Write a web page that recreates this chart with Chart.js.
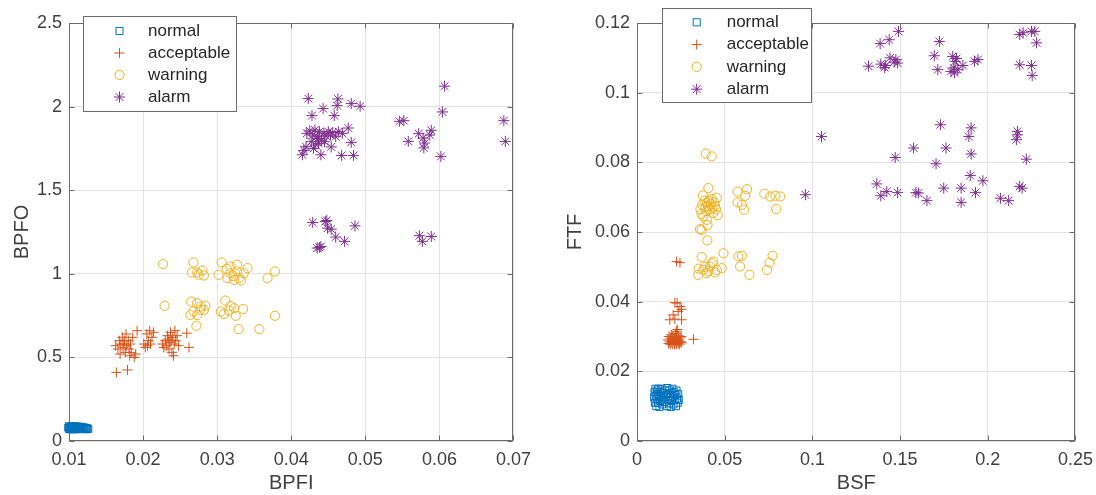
<!DOCTYPE html>
<html>
<head>
<meta charset="utf-8">
<script src="https://cdn.jsdelivr.net/npm/chart.js@4.4.1/dist/chart.umd.min.js"></script>
<style>
  html, body { margin: 0; padding: 0; background: #fff; overflow: hidden; }
  body { width: 1096px; height: 495px; position: relative; }
  .box { position: absolute; top: 0; height: 495px; }
</style>
</head>
<body>
<div class="box" id="boxL" style="left:0;width:539px;"><canvas id="cL"></canvas></div>
<div class="box" id="boxR" style="left:548px;width:553px;"><canvas id="cR"></canvas></div>
<script>
// ---------- data ----------
const classLabels = ['normal', 'acceptable', 'warning', 'alarm'];

// Left plot: [BPFI, BPFO]
const leftNormal = [[0.0099,0.080],[0.0100,0.072],[0.0100,0.088],[0.0101,0.078],[0.0102,0.084],[0.0102,0.070],[0.0103,0.080],[0.0104,0.075],[0.0104,0.088],[0.0105,0.082],[0.0106,0.070],[0.0106,0.078],[0.0107,0.085],[0.0108,0.074],[0.0108,0.080],[0.0109,0.088],[0.0110,0.072],[0.0110,0.080],[0.0111,0.084],[0.0112,0.076],[0.0112,0.070],[0.0113,0.082],[0.0114,0.078],[0.0114,0.086],[0.0115,0.072],[0.0116,0.080],[0.0117,0.076],[0.0118,0.084],[0.0119,0.078],[0.0120,0.072],[0.0121,0.080],[0.0122,0.076],[0.0123,0.070],[0.0124,0.078],[0.0125,0.074],[0.0126,0.072]];
const leftAcceptable = [[0.0164,0.41],[0.0179,0.425],[0.0163,0.57],[0.0166,0.55],[0.0168,0.60],[0.0170,0.58],[0.0172,0.62],[0.0173,0.56],[0.0175,0.60],[0.0176,0.53],[0.0177,0.64],[0.0178,0.57],[0.0180,0.60],[0.0181,0.55],[0.0182,0.51],[0.0183,0.58],[0.0184,0.53],[0.0186,0.62],[0.0188,0.50],[0.0190,0.52],[0.0192,0.66],[0.0174,0.58],[0.0169,0.52],
  [0.0201,0.58],[0.0203,0.56],[0.0205,0.64],[0.0207,0.60],[0.0209,0.66],[0.0210,0.58],[0.0212,0.62],[0.0214,0.65],[0.0206,0.57],
  [0.0226,0.58],[0.0228,0.56],[0.0230,0.60],[0.0232,0.57],[0.0233,0.63],[0.0235,0.55],[0.0236,0.59],[0.0237,0.65],[0.0238,0.60],[0.0239,0.53],[0.0240,0.62],[0.0241,0.51],[0.0242,0.58],[0.0243,0.66],[0.0244,0.60],[0.0246,0.63],[0.0248,0.57],[0.0259,0.645],[0.0262,0.56],[0.0234,0.61]];
const leftWarning = [[0.0227,1.058],[0.0268,1.068],[0.0266,1.008],[0.0273,1.008],[0.0280,1.020],[0.0282,0.990],[0.0275,0.995],[0.0306,1.068],[0.0318,1.044],[0.0327,1.054],[0.0341,1.034],[0.0302,0.994],[0.0314,0.974],[0.0323,0.964],[0.0332,0.960],[0.0318,1.004],[0.0327,1.014],[0.0336,1.004],[0.0368,0.974],[0.0378,1.014],[0.0313,1.030],[0.0322,0.985],[0.0330,0.975],
  [0.0229,0.808],[0.0265,0.834],[0.0273,0.824],[0.0278,0.804],[0.0282,0.784],[0.0268,0.774],[0.0264,0.754],[0.0273,0.754],[0.0272,0.689],[0.0277,0.785],[0.0284,0.810],
  [0.0311,0.840],[0.0318,0.808],[0.0323,0.794],[0.0305,0.774],[0.0309,0.759],[0.0325,0.749],[0.0335,0.789],[0.0316,0.780],[0.0329,0.669],[0.0357,0.669],[0.0378,0.749]];
const leftAlarm = [[0.0423,2.048],[0.0463,2.046],[0.0481,2.018],[0.0493,2.002],[0.0443,1.988],[0.0462,2.006],[0.0428,1.946],[0.0458,1.946],[0.0477,1.872],[0.0481,1.786],[0.0454,1.759],[0.0417,1.738],[0.0415,1.712],[0.0440,1.712],[0.0468,1.708],[0.0484,1.708],
  [0.0421,1.840],[0.0425,1.855],[0.0429,1.830],[0.0432,1.860],[0.0435,1.820],[0.0438,1.850],[0.0441,1.800],[0.0444,1.840],[0.0447,1.825],[0.0450,1.850],[0.0453,1.830],[0.0456,1.845],[0.0460,1.820],[0.0464,1.850],[0.0469,1.840],[0.0427,1.790],[0.0433,1.770],[0.0437,1.780],[0.0430,1.750],[0.0420,1.760],[0.0445,1.790],[0.0436,1.810],
  [0.0607,2.122],[0.0604,1.968],[0.0546,1.912],[0.0552,1.916],[0.0572,1.838],[0.0589,1.858],[0.0587,1.830],[0.0558,1.792],[0.0578,1.812],[0.0580,1.782],[0.0579,1.753],[0.0602,1.702],[0.0687,1.916],[0.0689,1.792],
  [0.0429,1.307],[0.0446,1.313],[0.0448,1.319],[0.0449,1.273],[0.0454,1.267],[0.0486,1.287],[0.0460,1.220],[0.0472,1.194],[0.0435,1.154],[0.0440,1.163],[0.0438,1.158],[0.0573,1.228],[0.0589,1.223],[0.0577,1.194]];

// Right plot: [BSF, FTF]
const rightNormal = [[0.0098,0.0125],[0.0100,0.0140],[0.0102,0.0110],[0.0105,0.0150],[0.0107,0.0130],[0.0110,0.0100],[0.0112,0.0120],[0.0115,0.0145],[0.0117,0.0135],[0.0120,0.0110],[0.0122,0.0150],[0.0125,0.0125],[0.0128,0.0098],[0.0130,0.0140],[0.0133,0.0115],[0.0136,0.0130],[0.0140,0.0150],[0.0143,0.0105],[0.0146,0.0122],[0.0150,0.0138],[0.0155,0.0112],[0.0160,0.0145],[0.0165,0.0128],[0.0170,0.0100],[0.0172,0.0152],[0.0175,0.0118],[0.0178,0.0135],[0.0182,0.0108],[0.0185,0.0145],[0.0188,0.0125],[0.0192,0.0098],[0.0195,0.0138],[0.0198,0.0115],[0.0202,0.0150],[0.0205,0.0128],[0.0208,0.0105],[0.0212,0.0140],[0.0215,0.0118],[0.0218,0.0132],[0.0222,0.0100],[0.0225,0.0145],[0.0228,0.0122],[0.0232,0.0110],[0.0235,0.0135],[0.0238,0.0118]];
const rightAcceptable = [[0.0226,0.0515],[0.0245,0.0512],[0.0216,0.0397],[0.0229,0.0396],[0.0245,0.0386],[0.0235,0.0372],[0.0254,0.0378],[0.0206,0.0362],[0.0187,0.0348],[0.0216,0.0350],[0.0254,0.0348],[0.0322,0.0292],[0.0225,0.0315],[0.0230,0.0320],
  [0.0176,0.0290],[0.0180,0.0280],[0.0183,0.0300],[0.0186,0.0285],[0.0189,0.0278],[0.0192,0.0295],[0.0195,0.0305],[0.0198,0.0282],[0.0201,0.0290],[0.0204,0.0278],[0.0207,0.0300],[0.0210,0.0288],[0.0213,0.0280],[0.0216,0.0295],[0.0219,0.0308],[0.0222,0.0285],[0.0225,0.0278],[0.0228,0.0298],[0.0231,0.0288],[0.0234,0.0280],[0.0237,0.0302],[0.0240,0.0290],[0.0243,0.0278],[0.0246,0.0296],[0.0249,0.0285],[0.0252,0.0300],[0.0255,0.0282],[0.0200,0.0300],[0.0215,0.0277],[0.0238,0.0285]];
const rightWarning = [[0.0392,0.0825],[0.0426,0.0817],[0.0407,0.0726],
  [0.0375,0.0705],[0.0385,0.0690],[0.0390,0.0672],[0.0395,0.0660],[0.0400,0.0685],[0.0405,0.0675],[0.0410,0.0690],[0.0415,0.0665],[0.0420,0.0680],[0.0425,0.0695],[0.0430,0.0670],[0.0435,0.0655],[0.0440,0.0685],[0.0445,0.0675],[0.0450,0.0665],[0.0455,0.0698],[0.0460,0.0648],[0.0362,0.0665],[0.0368,0.0652],[0.0378,0.0645],[0.0372,0.0678],[0.0398,0.0635],[0.0402,0.0620],
  [0.0573,0.0716],[0.0627,0.0723],[0.0617,0.0704],[0.0573,0.0685],[0.0598,0.0678],[0.0611,0.0664],
  [0.0726,0.0710],[0.0760,0.0702],[0.0789,0.0704],[0.0817,0.0702],[0.0794,0.0666],
  [0.0359,0.0608],[0.0369,0.0606],[0.0401,0.0576],[0.0493,0.0539],
  [0.0369,0.0528],[0.0435,0.0515],[0.0416,0.0501],[0.0378,0.0491],[0.0349,0.0477],[0.0397,0.0482],[0.0455,0.0491],[0.0483,0.0496],[0.0445,0.0484],[0.0426,0.0510],[0.0388,0.0500],[0.0408,0.0488],[0.0352,0.0495],
  [0.0578,0.0530],[0.0598,0.0532],[0.0588,0.0501],[0.0641,0.0477],
  [0.0741,0.0491],[0.0756,0.0512],[0.0773,0.0532]];
const rightAlarm = [[0.1491,0.1176],[0.1438,0.1152],[0.1386,0.1141],[0.1320,0.1076],[0.1390,0.1082],[0.1418,0.1078],[0.1443,0.1100],[0.1476,0.1095],[0.1486,0.1085],[0.1466,0.1088],[0.1412,0.1072],
  [0.1724,0.1147],[0.1695,0.1106],[0.1715,0.1066],[0.1800,0.1104],[0.1814,0.1090],[0.1806,0.1071],[0.1790,0.1061],[0.1829,0.1066],[0.1858,0.1078],[0.1810,0.1057],[0.1822,0.1098],[0.1924,0.1090],[0.1944,0.1095],
  [0.2182,0.1167],[0.2201,0.1172],[0.2249,0.1176],[0.2268,0.1176],[0.2278,0.1143],[0.2182,0.1080],[0.2249,0.1078],[0.2253,0.1049],
  [0.1052,0.0874],[0.0960,0.0707],[0.1730,0.0908],[0.1905,0.0899],[0.1892,0.0874],[0.1577,0.0841],[0.1472,0.0814],[0.1762,0.0841],[0.1905,0.0824],[0.1705,0.0796],[0.2169,0.0889],[0.2163,0.0865],[0.2169,0.0879],[0.2220,0.0809],
  [0.1367,0.0738],[0.1390,0.0704],[0.1424,0.0716],[0.1486,0.0713],[0.1590,0.0713],[0.1604,0.0712],[0.1653,0.0690],[0.1749,0.0726],[0.1848,0.0726],[0.1848,0.0685],[0.1900,0.0762],[0.1972,0.0747],[0.1930,0.0713],[0.2072,0.0697],[0.2119,0.0690],[0.2182,0.0731],[0.2196,0.0726]];

// tick values
const leftXTicks = [0.01, 0.02, 0.03, 0.04, 0.05, 0.06, 0.07];
const leftYTicks = [0, 0.5, 1, 1.5, 2, 2.5];
const rightXTicks = [0, 0.05, 0.1, 0.15, 0.2, 0.25];
const rightYTicks = [0, 0.02, 0.04, 0.06, 0.08, 0.1, 0.12];
const axisTitles = { leftX: 'BPFI', leftY: 'BPFO', rightX: 'BSF', rightY: 'FTF' };

// ---------- styles ----------
const classColors = ['#0072BD', '#D95319', '#EDB120', '#7E2F8E'];
const classStyles = ['rect', 'cross', 'circle', 'star'];
const classRadius = [5, 5, 4.6, 5.5];
const FONT = '"Liberation Sans", Arial, Helvetica, sans-serif';
const TEXT = '#404040';
const AXIS = '#6b6b6b';

function makeDatasets(groups) {
  return groups.map((pts, i) => ({
    label: classLabels[i],
    data: pts.map(p => ({ x: p[0], y: p[1] })),
    pointStyle: classStyles[i],
    pointRadius: classRadius[i],
    pointHoverRadius: classRadius[i],
    borderColor: classColors[i],
    backgroundColor: 'rgba(0,0,0,0)',
    pointBorderWidth: 1,
    showLine: false,
    clip: false
  }));
}

const axesBox = {
  id: 'axesBox',
  beforeDatasetsDraw(chart) {
    const { ctx, chartArea: a, scales } = chart;
    const x = scales.x, y = scales.y;
    ctx.save();
    ctx.strokeStyle = AXIS;
    ctx.lineWidth = 1;
    const L = Math.round(a.left) + 0.5, R = Math.round(a.right) - 0.5;
    const T = Math.round(a.top) + 0.5, B = Math.round(a.bottom) - 0.5;
    ctx.strokeRect(L, T, R - L, B - T);
    const tl = 5;
    ctx.beginPath();
    x.ticks.forEach(t => {
      const p = Math.round(x.getPixelForValue(t.value)) + 0.5;
      ctx.moveTo(p, B); ctx.lineTo(p, B - tl);
      ctx.moveTo(p, T); ctx.lineTo(p, T + tl);
    });
    y.ticks.forEach(t => {
      const p = Math.round(y.getPixelForValue(t.value)) + 0.5;
      ctx.moveTo(L, p); ctx.lineTo(L + tl, p);
      ctx.moveTo(R, p); ctx.lineTo(R - tl, p);
    });
    ctx.stroke();
    ctx.restore();
  }
};

const boxLegend = {
  id: 'boxLegend',
  afterDraw(chart, args, o) {
    const { ctx } = chart;
    const H = Chart.helpers;
    ctx.save();
    ctx.fillStyle = '#ffffff';
    ctx.fillRect(o.left, o.top, o.width, o.height);
    ctx.strokeStyle = AXIS;
    ctx.lineWidth = 1;
    ctx.strokeRect(o.left + 0.5, o.top + 0.5, o.width - 1, o.height - 1);
    chart.data.datasets.forEach((ds, i) => {
      const cy = o.rowY0 + i * o.rowGap;
      ctx.strokeStyle = ds.borderColor;
      ctx.fillStyle = 'rgba(0,0,0,0)';
      ctx.lineWidth = 1;
      H.drawPoint(ctx, { pointStyle: ds.pointStyle, radius: ds.pointRadius, borderWidth: 1, rotation: 0 }, o.markerX, cy);
      ctx.fillStyle = '#262626';
      ctx.font = '17px ' + FONT;
      ctx.textBaseline = 'middle';
      ctx.textAlign = 'left';
      ctx.fillText(ds.label, o.textX, cy);
    });
    ctx.restore();
  }
};

function makeChart(id, groups, xr, yr, xt, yt, xTitle, yTitle, yAxisWidth, yTitlePad, padRight, legendOpts) {
  const fixTicks = vals => scale => { scale.ticks = vals.map(v => ({ value: v })); };
  return new Chart(document.getElementById(id), {
    type: 'scatter',
    data: { datasets: makeDatasets(groups) },
    options: {
      responsive: true,
      maintainAspectRatio: false,
      animation: false,
      events: [],
      locale: 'en-US',
      layout: { padding: { top: 23, right: padRight, bottom: 0, left: 0 } },
      plugins: {
        legend: { display: false },
        tooltip: { enabled: false },
        boxLegend: legendOpts
      },
      scales: {
        x: {
          type: 'linear', min: xr[0], max: xr[1],
          afterBuildTicks: fixTicks(xt),
          afterFit: s => { s.height = 54; },
          grid: { color: '#e3e3e3', drawTicks: false, lineWidth: 1 },
          border: { display: false },
          ticks: { color: TEXT, font: { family: FONT, size: 18 }, padding: 8, maxRotation: 0, autoSkip: false,
                   callback: v => String(v) },
          title: { display: true, text: xTitle, color: TEXT, font: { family: FONT, size: 20 }, padding: { top: 0, bottom: 0 } }
        },
        y: {
          type: 'linear', min: yr[0], max: yr[1],
          afterBuildTicks: fixTicks(yt),
          afterFit: s => { s.width = yAxisWidth; },
          grid: { color: '#e3e3e3', drawTicks: false, lineWidth: 1 },
          border: { display: false },
          ticks: { color: TEXT, font: { family: FONT, size: 18 }, padding: 7, autoSkip: false,
                   callback: v => String(v) },
          title: { display: true, text: yTitle, color: TEXT, font: { family: FONT, size: 20 }, padding: { top: yTitlePad, bottom: 0 } }
        }
      }
    },
    plugins: [axesBox, boxLegend]
  });
}

makeChart('cL', [leftNormal, leftAcceptable, leftWarning, leftAlarm],
  [0.01, 0.07], [0, 2.5], leftXTicks, leftYTicks, axisTitles.leftX, axisTitles.leftY, 69, 10, 18,
  { left: 83, top: 16, width: 154, height: 96, markerX: 119.5, textX: 148, rowY0: 31, rowGap: 22 });

makeChart('cR', [rightNormal, rightAcceptable, rightWarning, rightAlarm],
  [0, 0.25], [0, 0.12], rightXTicks, rightYTicks, axisTitles.rightX, axisTitles.rightY, 89, 15, 22,
  { left: 114, top: 8, width: 150, height: 95, markerX: 148.7, textX: 178.7, rowY0: 22.3, rowGap: 22.3 });
</script>
</body>
</html>
